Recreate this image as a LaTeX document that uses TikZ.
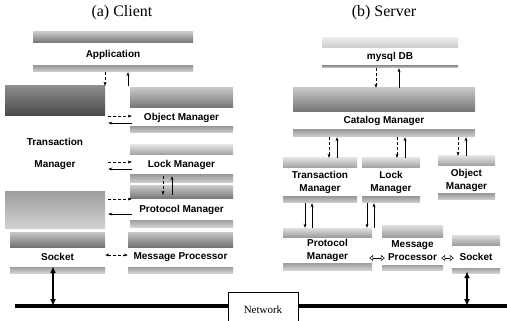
\documentclass[tikz,border=0pt]{standalone}
\usepackage{fontspec}
\setmainfont{Liberation Serif}
\newfontfamily\lblfont{Liberation Sans}
\usetikzlibrary{arrows.meta}

% grey panel: name, x1, y1, x2, y2, top band depth, bottom band depth, top band style, label
\newcommand\gpanel[9]{%
  \node[panel, minimum width={(#4-#2)*1pt}, minimum height={(#5-#3)*1pt}] (#1) at ({(#2+#4)/2},{(#3+#5)/2}) {};
  \shade[#8] (#2,#3) rectangle (#4,{#3+#6});
  \shade[lowband] (#2,{#5-#7}) rectangle (#4,#5);
  \node[lbl] (#1-t) at ({(#2+#4)/2},{(#3+#6+#5-#7)/2}) {#9};
}

\begin{document}
\begin{tikzpicture}[x=1pt,y=-1pt,
  lbl/.style={font=\lblfont\bfseries\fontsize{10}{13}\selectfont, align=center, inner sep=0pt},
  panel/.style={inner sep=0pt, draw=none},
  title/.style={font=\fontsize{16}{19}\selectfont},
  topdark/.style={top color=black!45, bottom color=black!72},
  topmid/.style={top color=black!22, bottom color=black!55},
  toplight/.style={top color=black!12, bottom color=black!38},
  topfaint/.style={top color=black!8, bottom color=black!20},
  lowband/.style={top color=black!38, bottom color=black!18},
  req/.style={-{Stealth[length=4pt,width=3pt]}, line width=0.4pt, densely dashed},
  rep/.style={-{Stealth[length=4pt,width=3pt]}, line width=0.6pt},
  dbl/.style={{Stealth[length=4pt,width=3pt]}-{Stealth[length=4pt,width=3pt]}, line width=0.5pt, densely dashed},
  hol/.style={{Triangle[open,length=4pt,width=6pt]}-{Triangle[open,length=4pt,width=6pt]}, line width=0.5pt},
  big/.style={{Latex[length=7pt,width=6pt]}-{Latex[length=7pt,width=6pt]}, line width=1.8pt},
  netline/.style={line width=4pt}
]
\useasboundingbox (0,0) rectangle (507,321);

% titles
\node[title] (ta) at (122,13) {(a) Client};
\node[title] (tb) at (384,13) {(b) Server};

% ---------- client ----------
\gpanel{app}{33}{32}{193}{72}{11}{6}{topmid}{Application}
\gpanel{ctm}{5}{86}{105}{228}{30}{36}{topdark}{Transaction\\[9pt]Manager}
\gpanel{com}{130}{88}{233}{133}{20}{6}{topmid}{Object Manager}
\gpanel{clm}{130}{145}{233}{183}{10}{8}{toplight}{Lock Manager}
\gpanel{cpm}{130}{186}{233}{227}{13}{7}{topmid}{Protocol Manager}
\gpanel{csk}{10}{232}{105}{273}{15}{6}{topmid}{Socket}
\gpanel{cmp}{128}{232}{233}{273}{15}{6}{topmid}{Message Processor}

\draw[req] (app.south -| 105,0) -- (ctm.north -| 105,0);
\draw[rep] (ctm.north -| 128,0) -- (app.south -| 128,0);

\draw[req, shorten <=3pt, shorten >=-2pt] (ctm.east |- 0,116) -- (com.west |- 0,116);
\draw[rep, shorten <=-2pt, shorten >=3pt] (com.west |- 0,123) -- (ctm.east |- 0,123);
\draw[req, shorten <=3pt, shorten >=-2pt] (ctm.east |- 0,162) -- (clm.west |- 0,162);
\draw[rep, shorten <=-2pt, shorten >=3pt] (clm.west |- 0,169) -- (ctm.east |- 0,169);
\draw[req, shorten <=3pt, shorten >=-2pt] (ctm.east |- 0,199) -- (cpm.west |- 0,199);
\draw[rep, shorten <=-2pt, shorten >=3pt] (cpm.west |- 0,214) -- (ctm.east |- 0,214);
\draw[req, shorten <=-7pt, shorten >=-9pt] (clm.south -| 163,0) -- (cpm.north -| 163,0);
\draw[rep, shorten <=-9pt, shorten >=-7pt] (cpm.north -| 172,0) -- (clm.south -| 172,0);
\draw[dbl] (csk.east |- 0,255) -- (cmp.west |- 0,255);

% ---------- server ----------
\gpanel{db}{322}{38}{458}{68}{10}{2}{topfaint}{mysql DB}
\gpanel{cat}{293}{88}{475}{137}{24}{7}{topmid}{Catalog Manager}
\gpanel{stm}{283}{158}{357}{203}{10}{6}{toplight}{Transaction\\Manager}
\gpanel{slm}{362}{158}{420}{203}{10}{6}{toplight}{Lock\\Manager}
\gpanel{som}{438}{156}{495}{200}{10}{6}{toplight}{Object\\Manager}
\gpanel{spm}{283}{228}{372}{270}{9}{7}{toplight}{Protocol\\Manager}
\gpanel{smp}{382}{225}{443}{270}{12}{5}{toplight}{Message\\Processor}
\gpanel{ssk}{452}{235}{500}{273}{10}{5}{toplight}{Socket}

\draw[req] (db.south -| 376,0) -- (cat.north -| 376,0);
\draw[rep] (cat.north -| 399,0) -- (db.south -| 399,0);
\draw[req] (cat.south -| 329,0) -- (stm.north -| 329,0);
\draw[rep] (stm.north -| 337,0) -- (cat.south -| 337,0);
\draw[req] (cat.south -| 397,0) -- (slm.north -| 397,0);
\draw[rep] (slm.north -| 405,0) -- (cat.south -| 405,0);
\draw[req] (cat.south -| 458,0) -- (som.north -| 458,0);
\draw[rep] (som.north -| 466,0) -- (cat.south -| 466,0);
\draw[rep] (stm.south -| 305,0) -- (spm.north -| 305,0);
\draw[rep] (spm.north -| 312,0) -- (stm.south -| 312,0);
\draw[rep] (slm.south -| 367,0) -- (spm.north -| 367,0);
\draw[rep] (spm.north -| 374,0) -- (slm.south -| 374,0);
\draw[hol, shorten <=-3pt, shorten >=-3pt] (spm.east |- 0,258) -- (smp.west |- 0,258);
\draw[hol, shorten <=-2pt, shorten >=-2pt] (smp.east |- 0,258) -- (ssk.west |- 0,258);

% ---------- network ----------
\node[draw, line width=0.7pt, minimum width=70pt, minimum height=36pt, font=\fontsize{11}{13}\selectfont] (net) at (263,310) {Network};
\coordinate (nl) at (15,306);
\coordinate (nr) at (507,306);
\draw[netline] (nl) -- (net.west |- nl);
\draw[netline] (net.east |- nr) -- (nr);
\draw[big, shorten <=-7pt] (csk.south -| 53,0) -- (nl -| 53,0);
\draw[big, shorten <=-2pt] (ssk.south -| 467,0) -- (nr -| 467,0);
\end{tikzpicture}
\end{document}
